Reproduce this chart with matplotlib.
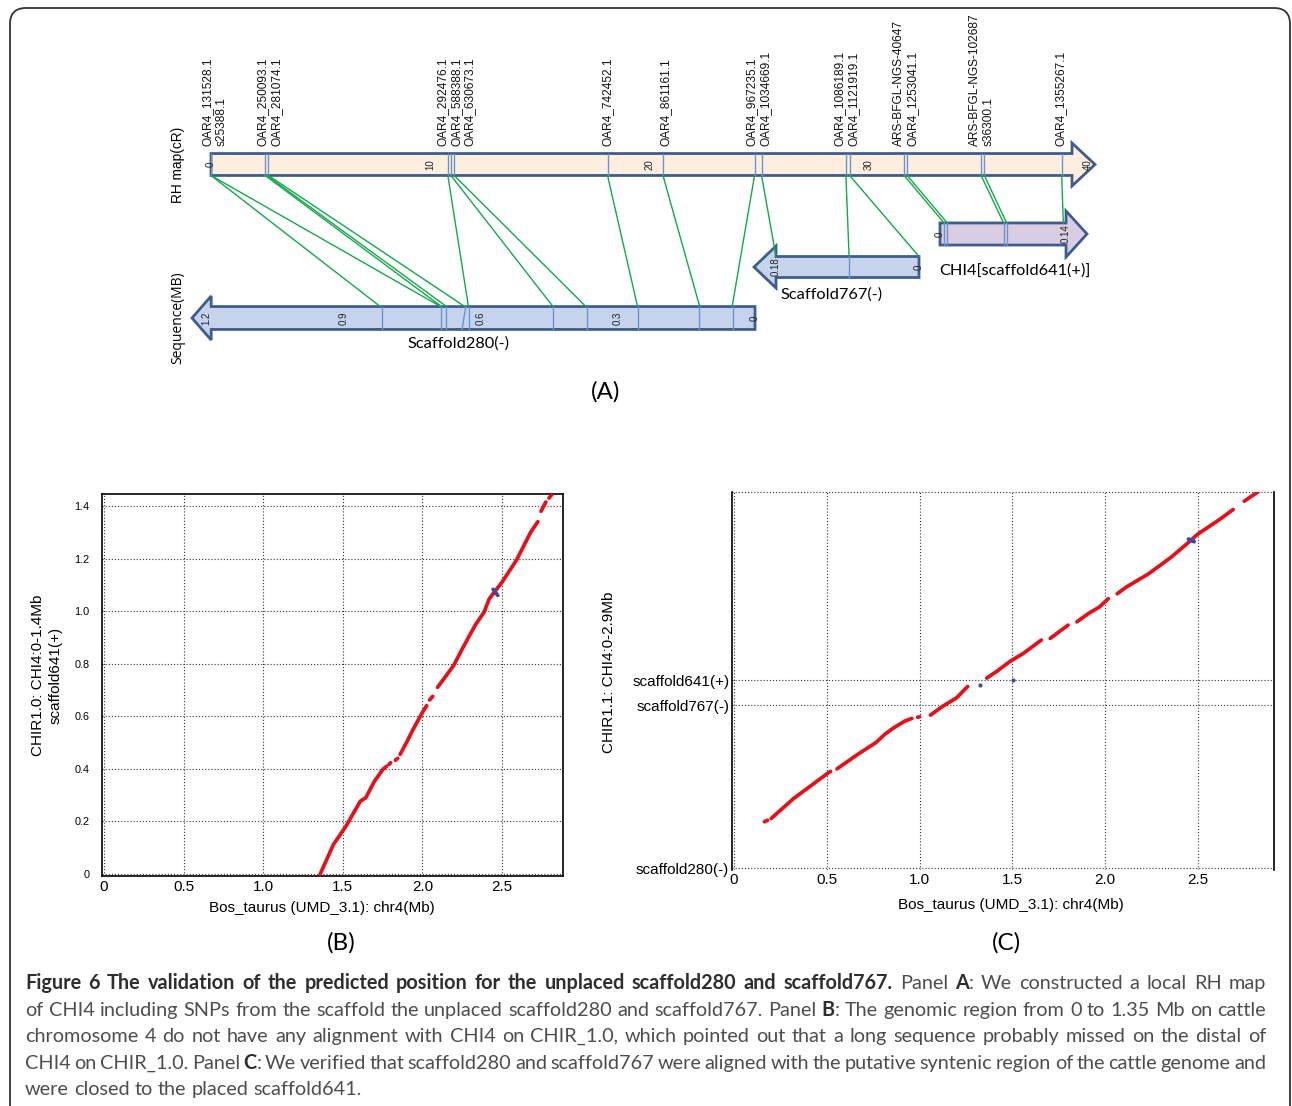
import numpy as np
import matplotlib
matplotlib.use("Agg")
import matplotlib.pyplot as plt
from matplotlib.patches import Polygon, FancyBboxPatch, ConnectionPatch

plt.rcParams['font.family'] = ['Liberation Sans', 'DejaVu Sans']

nan = np.nan

# ---------------- panel A data ----------------
# RH map (cR): marker lines and label groups
rh_markers = [0.0, 2.47, 2.62, 10.81, 10.95, 11.1, 18.1, 20.63, 24.81, 25.13,
              28.98, 29.15, 31.64, 31.78, 35.15, 35.3, 38.83]
rh_ticks = [0, 10, 20, 30, 40]
rh_label_pos = [0.18, 2.69, 11.19, 18.08, 20.76, 24.98, 29.0, 31.7, 35.2, 38.8]
rh_label_txt = [
    ["OAR4_131528.1", "s25388.1"],
    ["OAR4_250093.1", "OAR4_281074.1"],
    ["OAR4_292476.1", "OAR4_588388.1", "OAR4_630673.1"],
    ["OAR4_742452.1"],
    ["OAR4_861161.1"],
    ["OAR4_967235.1", "OAR4_1034669.1"],
    ["OAR4_1086189.1", "OAR4_1121919.1"],
    ["ARS-BFGL-NGS-40647", "OAR4_1253041.1"],
    ["ARS-BFGL-NGS-102687", "s36300.1"],
    ["OAR4_1355267.1"],
]

# scaffold sequences (Mb)
s280_markers = [0.816, 0.687, 0.676, 0.626, 0.442, 0.368, 0.256, 0.1225, 0.048]
s280_slant = (0.633, 0.641)
s280_ticks = [1.2, 0.9, 0.6, 0.3, 0]
s767_markers = [0.088]
s767_ticks = [0.18, 0]
chi4_markers = [0.0045, 0.008, 0.0706, 0.074]
chi4_ticks = [0, 0.14]

# connections: RH position (cR) -> scaffold position (Mb)
link_s280 = [(0.0, 0.82), (0.0, 0.688), (2.47, 0.686), (2.55, 0.675), (2.62, 0.635),
             (10.81, 0.627), (10.95, 0.442), (11.1, 0.37), (18.1, 0.257),
             (20.63, 0.121), (24.81, 0.05)]
link_s767 = [(25.13, 0.18), (28.98, 0.088), (29.15, 0.0)]
link_chi4 = [(31.64, 0.0045), (31.78, 0.008), (35.15, 0.0706), (35.3, 0.074), (38.83, 0.137)]

# ---------------- panel B data ----------------
b_x = [1.358, 1.441, 1.52, 1.61, 1.644, 1.70, 1.752, 1.775, nan, 1.79, 1.80, nan, 1.83, 1.845,
       nan, 1.86, 1.90, 1.937, 2.0, 2.027, nan, 2.045, 2.065, nan, 2.095, 2.196, 2.25, 2.33,
       2.387, 2.42, 2.5, 2.59, 2.68, 2.725, nan, 2.745, 2.775, nan, 2.795, 2.815]
b_y = [0.0, 0.112, 0.182, 0.277, 0.29, 0.354, 0.398, 0.41, nan, 0.417, 0.423, nan, 0.433, 0.44,
       nan, 0.455, 0.50, 0.545, 0.615, 0.64, nan, 0.662, 0.676, nan, 0.71, 0.793, 0.856, 0.945,
       0.996, 1.047, 1.11, 1.193, 1.30, 1.34, nan, 1.38, 1.415, nan, 1.43, 1.445]
b_blue_x = [2.444, 2.473]
b_blue_y = [1.083, 1.06]

# ---------------- panel C data ----------------
c_x = [0.164, 0.18, nan, 0.2, 0.32, 0.50, 0.52, nan, 0.555, 0.669, 0.765, 0.813, 0.862,
       0.922, 0.958, nan, 0.99, 1.0, nan, 1.059, 1.126, 1.199, 1.259, nan, 1.362, 1.415,
       1.487, 1.56, 1.632, 1.656, nan, 1.704, 1.764, 1.80, nan, 1.848, 1.909, 1.969, 2.017,
       nan, 2.065, 2.113, 2.233, 2.354, 2.438, 2.498, 2.618, 2.69, nan, 2.75, 2.775, 2.823]
c_y = [0.357, 0.368, nan, 0.382, 0.535, 0.726, 0.745, nan, 0.765, 0.879, 0.968, 1.032, 1.083,
       1.134, 1.154, nan, 1.163, 1.166, nan, 1.18, 1.249, 1.312, 1.40, nan, 1.465, 1.516,
       1.593, 1.656, 1.733, 1.758, nan, 1.771, 1.835, 1.873, nan, 1.899, 1.962, 2.013, 2.077,
       nan, 2.115, 2.166, 2.268, 2.395, 2.497, 2.574, 2.689, 2.765, nan, 2.829, 2.854, 2.9]
c_blue_dots_x = [1.326, 1.502]
c_blue_dots_y = [1.414, 1.447]
c_blue_x = [2.45, 2.479]
c_blue_y = [2.536, 2.518]
c_ytick_pos = [0, 1.257, 1.45]
c_ytick_lab = ["scaffold280(-)", "scaffold767(-)", "scaffold641(+)"]

x_ticks = [0, 0.5, 1.0, 1.5, 2.0, 2.5]
x_tick_lab = ["0", "0.5", "1.0", "1.5", "2.0", "2.5"]
b_yticks = [0, 0.2, 0.4, 0.6, 0.8, 1.0, 1.2, 1.4]
b_ytick_lab = ["0", "0.2", "0.4", "0.6", "0.8", "1.0", "1.2", "1.4"]

caption = [
    [("Figure 6 The validation of the predicted position for the unplaced scaffold280 and scaffold767.", True),
     (" Panel ", False), ("A", True), (": We constructed a local RH map", False)],
    [("of CHI4 including SNPs from the scaffold the unplaced scaffold280 and scaffold767. Panel ", False),
     ("B", True), (": The genomic region from 0 to 1.35 Mb on cattle", False)],
    [("chromosome 4 do not have any alignment with CHI4 on CHIR_1.0, which pointed out that a long sequence probably missed on the distal of", False)],
    [("CHI4 on CHIR_1.0. Panel ", False), ("C", True),
     (": We verified that scaffold280 and scaffold767 were aligned with the putative syntenic region of the cattle genome and", False)],
    [("were closed to the placed scaffold641.", False)],
]

W, H = 1292, 1106
fig = plt.figure(figsize=(W / 100, H / 100), dpi=100)

EDGE = '#3f5d8c'
INNER = '#6d93cf'
GREEN = '#14a84b'
RED = '#e3111b'
BLUE = '#3d4b9b'


def px_axes(l, t, r, b):
    return fig.add_axes([l / W, 1 - b / H, (r - l) / W, (b - t) / H])


# frame
frame = px_axes(0, 0, W, H)
frame.set_xlim(0, W)
frame.set_ylim(H, 0)
frame.axis('off')
frame.add_patch(FancyBboxPatch((10, 8), 1280, 1130, boxstyle='round,pad=0,rounding_size=16',
                               fill=False, lw=1.3, ec='#333333', clip_on=False))


def draw_bar(ax, length, tip, h, face, markers, ticks):
    pts = [(0, -h), (length, -h), (length, -1), (tip, 0), (length, 1), (length, h), (0, h)]
    ax.add_patch(Polygon(pts, closed=True, fc=face, ec=EDGE, lw=2.0, joinstyle='miter',
                         clip_on=False, zorder=2))
    for m in markers:
        ax.plot([m, m], [-h, h], color=INNER, lw=1.0, zorder=3, clip_on=False)
    for t in ticks:
        ax.text(t, 0, '%g' % t, rotation=90, ha='center', va='center', fontsize=7,
                color='#222222', zorder=4, clip_on=False)
    ax.axis('off')


# RH map
ax_rh = px_axes(211, 143, 1095, 186)
ax_rh.set_xlim(0, 40.35)
ax_rh.set_ylim(-1, 1)
H_RH = 0.51
draw_bar(ax_rh, 39.3, 40.35, H_RH, '#fdeedf', rh_markers, rh_ticks)
for pos, lines in zip(rh_label_pos, rh_label_txt):
    ax_rh.text(pos, 0.85, "\n".join(lines), rotation=90, ha='center', va='bottom',
               multialignment='left', fontsize=8.6, linespacing=1.2, color='#111111')
ax_rh.text(-1.5, 0, "RH map(cR)", rotation=90, ha='center', va='center', fontsize=9.8)

# scaffold280 (reversed)
ax_280 = px_axes(192, 296, 755, 340)
ax_280.set_xlim(1.232, 0)
ax_280.set_ylim(-1, 1)
H_280 = 0.52
draw_bar(ax_280, 1.19, 1.232, H_280, '#c5d4ec', s280_markers, s280_ticks)
ax_280.plot(list(s280_slant), [H_280, -H_280], color=INNER, lw=1.0, zorder=3)
ax_280.text(0.648, -1.18, "Scaffold280(-)", ha='center', va='center', fontsize=11.8,
            family=['Lato', 'DejaVu Sans'])
ax_280.text(1.263, 0, "Sequence(MB)", rotation=90, ha='center', va='center', fontsize=10,
            family=['Open Sans', 'DejaVu Sans'])

# scaffold767 (reversed)
ax_767 = px_axes(754, 246, 919, 288)
ax_767.set_xlim(0.2077, 0)
ax_767.set_ylim(-1, 1)
H_767 = 0.5
draw_bar(ax_767, 0.18, 0.2077, H_767, '#c5d4ec', s767_markers, s767_ticks)
ax_767.text(0.174, -1.29, "Scaffold767(-)", ha='left', va='center', fontsize=11.8,
            family=['Lato', 'DejaVu Sans'])

# CHI4 scaffold641
ax_641 = px_axes(940, 211, 1087, 257)
ax_641.set_xlim(0, 0.1633)
ax_641.set_ylim(-1, 1)
H_641 = 0.48
draw_bar(ax_641, 0.14, 0.1633, H_641, '#d9cde4', chi4_markers, chi4_ticks)
ax_641.text(-0.001, -1.57, "CHI4[scaffold641(+)]", ha='left', va='center', fontsize=11.8,
            family=['Lato', 'DejaVu Sans'])

for links, ax_s, hs in [(link_s280, ax_280, H_280), (link_s767, ax_767, H_767),
                        (link_chi4, ax_641, H_641)]:
    for cr, mb in links:
        con = ConnectionPatch(xyA=(cr, -H_RH), coordsA=ax_rh.transData,
                              xyB=(mb, hs), coordsB=ax_s.transData,
                              color=GREEN, lw=1.0, zorder=1)
        fig.add_artist(con)

fig.text(606 / W, 1 - 392 / H, "(A)", ha='center', va='center', fontsize=17.5,
         family=['Lato', 'DejaVu Sans'])

# ---------------- panel B ----------------
grid_kw = dict(color='#333333', lw=0.8, ls=(0, (1, 1.8)))
ax_b = px_axes(102, 494, 563, 876)
ax_b.set_xlim(-0.0126, 2.883)
ax_b.set_ylim(-0.0076, 1.4456)
ax_b.plot(b_x, b_y, color=RED, lw=2.7, solid_capstyle='round', zorder=3)
ax_b.plot(b_blue_x, b_blue_y, color=BLUE, lw=2.7, solid_capstyle='round', zorder=4)
ax_b.set_xticks(x_ticks)
ax_b.set_xticklabels(x_tick_lab, fontsize=11)
ax_b.set_yticks(b_yticks)
ax_b.set_yticklabels(b_ytick_lab, fontsize=7.8)
ax_b.tick_params(length=0, pad=3)
ax_b.tick_params(axis='y', pad=9)
ax_b.grid(True, **grid_kw)
for s in ax_b.spines.values():
    s.set_linewidth(1.2)
ax_b.text(-0.119, 0.526, "CHIR1.0: CHI4:0-1.4Mb\nscaffold641(+)", transform=ax_b.transAxes,
          rotation=90, ha='center', va='center', fontsize=11, linespacing=1.3)
ax_b.text(0.477, -0.084, "Bos_taurus (UMD_3.1): chr4(Mb)", transform=ax_b.transAxes,
          ha='center', va='center', fontsize=11)
fig.text(341 / W, 1 - 943 / H, "(B)", ha='center', va='center', fontsize=17.5,
         family=['Lato', 'DejaVu Sans'])

# ---------------- panel C ----------------
ax_c = px_axes(732, 492, 1274, 870)
ax_c.set_xlim(-0.011, 2.91)
ax_c.set_ylim(-0.015, 2.9)
ax_c.plot(c_x, c_y, color=RED, lw=2.7, solid_capstyle='round', zorder=3)
ax_c.plot(c_blue_x, c_blue_y, color=BLUE, lw=3.0, solid_capstyle='round', zorder=4)
ax_c.scatter(c_blue_dots_x, c_blue_dots_y, s=9, color=BLUE, zorder=4, lw=0)
ax_c.set_xticks(x_ticks)
ax_c.set_xticklabels(x_tick_lab, fontsize=11)
ax_c.set_yticks(c_ytick_pos)
ax_c.set_yticklabels(c_ytick_lab, fontsize=11)
ax_c.tick_params(length=0, pad=2)
ax_c.grid(True, **grid_kw)
ax_c.axhline(2.9, clip_on=False, **grid_kw)
ax_c.spines['top'].set_visible(False)
ax_c.spines['bottom'].set_visible(False)
for s in ['left', 'right']:
    ax_c.spines[s].set_linewidth(1.2)
ax_c.text(-0.227, 0.524, "CHIR1.1: CHI4:0-2.9Mb", transform=ax_c.transAxes,
          rotation=90, ha='center', va='center', fontsize=11)
ax_c.text(0.515, -0.093, "Bos_taurus (UMD_3.1): chr4(Mb)", transform=ax_c.transAxes,
          ha='center', va='center', fontsize=11)
fig.text(1006 / W, 1 - 943 / H, "(C)", ha='center', va='center', fontsize=17.5,
         family=['Lato', 'DejaVu Sans'])

# ---------------- caption (justified) ----------------
renderer = fig.canvas.get_renderer()
CAP_FONT = ['Lato', 'DejaVu Sans']
CAP_SIZE = 14.3
CAP_X0, CAP_X1 = 25, 1266
cap_base = [989, 1016, 1042, 1069, 1095]


def cap_words(segments):
    words, glue = [], False
    for text, bold in segments:
        for i, p in enumerate(text.split(' ')):
            if p:
                if i == 0 and glue:
                    words[-1].append((p, bold))
                else:
                    words.append([(p, bold)])
        glue = not text.endswith(' ')
    return words


def piece(x, y, s, bold):
    return fig.text(x / W, 1 - y / H, s, ha='left', va='baseline', fontsize=CAP_SIZE,
                    family=CAP_FONT, fontweight='bold' if bold else 'normal',
                    color='#2e2e2e' if bold else '#4d4d4d')


probe = piece(0, 0, "a a", False)
w_sp = probe.get_window_extent(renderer).width
probe.set_text("aa")
w_sp -= probe.get_window_extent(renderer).width
probe.remove()

for li, (segs, y) in enumerate(zip(caption, cap_base)):
    words = cap_words(segs)
    arts = []
    widths = []
    for w in words:
        ww = []
        wsum = 0
        for s, bold in w:
            t = piece(0, y, s, bold)
            wd = t.get_window_extent(renderer).width
            ww.append((t, wd))
            wsum += wd
        arts.append(ww)
        widths.append(wsum)
    last = li == len(caption) - 1
    if last or len(words) < 2:
        gap = w_sp
    else:
        gap = (CAP_X1 - CAP_X0 - sum(widths)) / (len(words) - 1)
    x = CAP_X0
    for ww, wsum in zip(arts, widths):
        xx = x
        for t, wd in ww:
            t.set_x(xx / W)
            xx += wd
        x += wsum + gap

fig.savefig("out.png", dpi=100)
